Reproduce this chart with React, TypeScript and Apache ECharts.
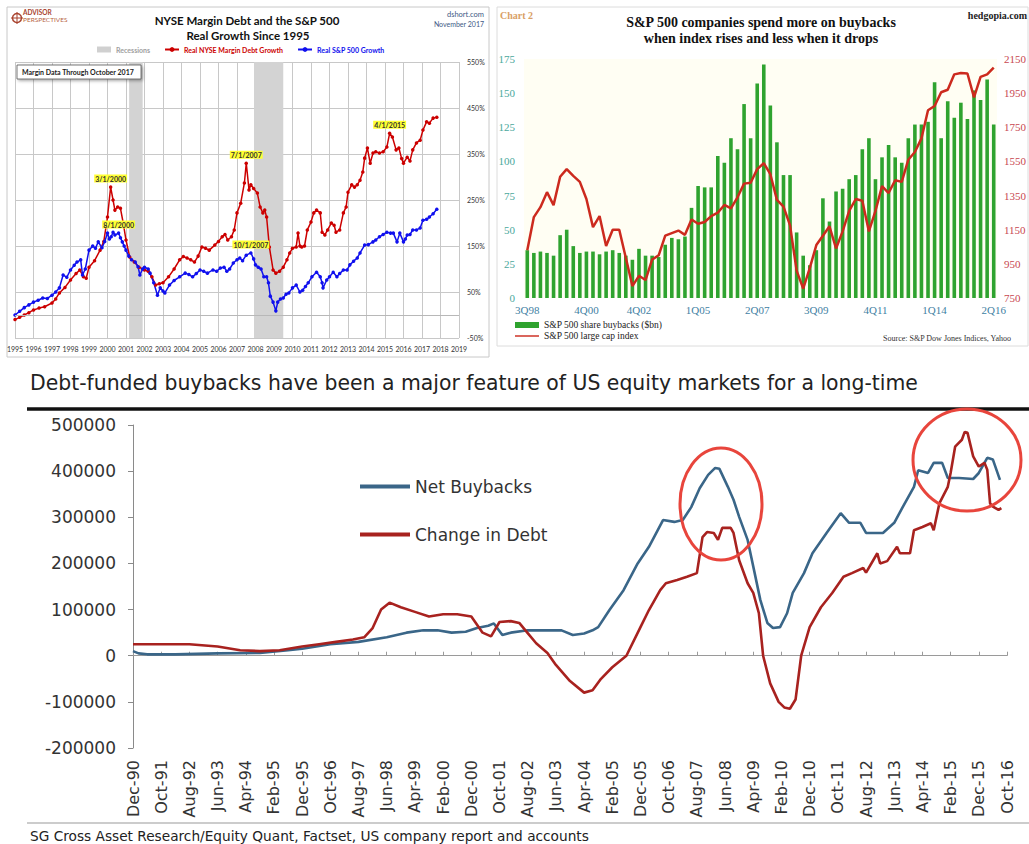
import React, { useEffect, useRef } from "react";
import * as echarts from "echarts";

// ---------- Chart 1: NYSE margin debt vs S&P 500 (real growth since 1995, %) ----------
const marginYears = [1995.0,1995.25,1995.5,1995.75,1996.0,1996.3,1996.6,1997.0,1997.2,1997.4,1997.7,1998.0,1998.3,1998.5,1998.7,1998.85,1999.0,1999.3,1999.6,1999.8,2000.0,2000.17,2000.3,2000.4,2000.55,2000.7,2000.85,2001.0,2001.2,2001.45,2001.7,2002.0,2002.2,2002.4,2002.6,2002.8,2003.0,2003.3,2003.6,2003.9,2004.1,2004.3,2004.5,2004.7,2004.9,2005.1,2005.3,2005.5,2005.8,2006.0,2006.2,2006.35,2006.5,2006.7,2006.85,2007.0,2007.2,2007.4,2007.5,2007.65,2007.75,2007.9,2008.1,2008.25,2008.4,2008.5,2008.6,2008.75,2008.95,2009.1,2009.3,2009.5,2009.7,2009.85,2010.0,2010.2,2010.3,2010.4,2010.5,2010.65,2010.8,2011.0,2011.15,2011.3,2011.5,2011.6,2011.75,2011.9,2012.1,2012.25,2012.35,2012.55,2012.75,2012.9,2013.0,2013.2,2013.35,2013.5,2013.65,2013.8,2013.9,2014.05,2014.2,2014.35,2014.5,2014.7,2014.9,2015.1,2015.25,2015.4,2015.6,2015.75,2015.9,2016.0,2016.2,2016.35,2016.5,2016.7,2016.9,2017.05,2017.25,2017.4,2017.6,2017.8];
const marginValues = [-10,-5,0,5,11,15,18,26,35,48,60,76,90,98,83,80,104,118,141,160,213,278,250,228,235,232,200,163,126,115,104,98,95,83,65,68,70,83,100,120,127,124,120,115,128,148,145,141,152,160,170,175,163,170,185,222,243,287,330,272,283,275,265,235,222,228,213,148,98,91,95,104,120,135,145,148,178,150,148,150,185,202,222,228,222,180,174,185,200,195,180,185,222,235,267,283,278,283,293,311,341,363,330,352,355,352,355,365,395,387,359,363,340,330,343,335,359,374,380,402,420,417,428,430];
const spxYears = [1995.0,1995.25,1995.5,1995.75,1996.0,1996.25,1996.5,1996.75,1997.0,1997.2,1997.4,1997.6,1997.8,1998.0,1998.2,1998.35,1998.55,1998.65,1998.8,1999.0,1999.2,1999.35,1999.5,1999.7,1999.85,2000.0,2000.1,2000.2,2000.3,2000.4,2000.6,2000.7,2000.8,2000.9,2001.0,2001.15,2001.3,2001.5,2001.65,2001.75,2001.9,2002.0,2002.2,2002.3,2002.5,2002.7,2002.85,2003.0,2003.1,2003.35,2003.6,2003.9,2004.2,2004.4,2004.6,2004.8,2005.0,2005.2,2005.4,2005.7,2005.9,2006.1,2006.3,2006.45,2006.6,2006.8,2007.0,2007.15,2007.3,2007.5,2007.75,2007.9,2008.0,2008.15,2008.3,2008.45,2008.6,2008.7,2008.8,2008.95,2009.1,2009.2,2009.35,2009.5,2009.65,2009.8,2010.0,2010.2,2010.4,2010.55,2010.7,2010.85,2011.05,2011.3,2011.5,2011.6,2011.65,2011.85,2012.0,2012.2,2012.4,2012.55,2012.75,2012.95,2013.1,2013.3,2013.5,2013.65,2013.9,2014.1,2014.35,2014.5,2014.7,2014.9,2015.1,2015.3,2015.45,2015.65,2015.8,2016.0,2016.1,2016.2,2016.35,2016.5,2016.7,2016.9,2017.05,2017.25,2017.4,2017.6,2017.8];
const spxValues = [0,8,16,22,28,32,37,36,43,50,59,87,82,98,108,115,120,87,100,141,150,145,159,146,160,178,165,170,180,174,178,168,159,150,141,128,120,115,105,87,100,104,100,91,70,43,59,52,48,65,75,83,91,88,83,90,98,95,91,98,95,102,104,95,100,113,120,124,118,130,135,122,109,104,100,83,83,70,41,28,9,28,35,37,45,48,59,65,50,54,62,70,83,93,83,70,59,76,83,93,83,90,98,98,109,117,124,135,152,153,159,163,170,175,180,178,178,159,178,159,165,174,175,185,185,189,206,208,213,220,230];
const recessionSpans = [[2001.17, 2001.9], [2007.92, 2009.5]];
const marginNotes = [
  { name: "3/1/2000", at: [2000.17, 278] },
  { name: "7/1/2007", at: [2007.5, 330] },
  { name: "4/1/2015", at: [2015.25, 395] },
];
const spxNotes = [
  { name: "8/1/2000", at: [2000.6, 178] },
  { name: "10/1/2007", at: [2007.75, 135] },
];

// ---------- Chart 2: S&P 500 buybacks ($bn) vs index ----------
const quarters = ["3Q98","4Q98","1Q99","2Q99","3Q99","4Q99","1Q00","2Q00","3Q00","4Q00","1Q01","2Q01","3Q01","4Q01","1Q02","2Q02","3Q02","4Q02","1Q03","2Q03","3Q03","4Q03","1Q04","2Q04","3Q04","4Q04","1Q05","2Q05","3Q05","4Q05","1Q06","2Q06","3Q06","4Q06","1Q07","2Q07","3Q07","4Q07","1Q08","2Q08","3Q08","4Q08","1Q09","2Q09","3Q09","4Q09","1Q10","2Q10","3Q10","4Q10","1Q11","2Q11","3Q11","4Q11","1Q12","2Q12","3Q12","4Q12","1Q13","2Q13","3Q13","4Q13","1Q14","2Q14","3Q14","4Q14","1Q15","2Q15","3Q15","4Q15","1Q16","2Q16"];
const quarterTicks = ["3Q98","4Q00","4Q02","1Q05","2Q07","3Q09","4Q11","1Q14","2Q16"];
const buybacks = [35,33,34,33,31,46,50,38,33,34,34,32,34,35,33,31,28,36,31,31,30,39,44,43,45,66,82,81,81,104,99,117,109,142,117,157,171,141,114,90,90,48,31,24,35,73,56,78,80,87,90,109,117,87,103,112,103,99,117,127,127,129,158,117,144,132,143,131,152,145,160,127];
const spIndex = [1030,1224,1282,1370,1294,1460,1505,1465,1430,1330,1165,1230,1055,1150,1150,985,820,880,855,975,1000,1115,1130,1145,1120,1210,1185,1195,1230,1250,1295,1275,1340,1420,1425,1505,1540,1475,1325,1285,1175,910,805,925,1060,1115,1170,1040,1140,1260,1330,1320,1140,1260,1405,1365,1440,1430,1560,1605,1685,1850,1875,1955,1970,2060,2068,2065,1925,2045,2060,2100];

// ---------- Chart 3: debt-funded buybacks (months counted from Dec-90) ----------
const monthTicks = ["Dec-90","Oct-91","Aug-92","Jun-93","Apr-94","Feb-95","Dec-95","Oct-96","Aug-97","Jun-98","Apr-99","Feb-00","Dec-00","Oct-01","Aug-02","Jun-03","Apr-04","Feb-05","Dec-05","Oct-06","Aug-07","Jun-08","Apr-09","Feb-10","Dec-10","Oct-11","Aug-12","Jun-13","Apr-14","Feb-15","Dec-15","Oct-16"];
const netBuybackMonths = [0,2,5,15,30,45,55,60,70,80,90,97,103,108,113,118,122,126,128,131,134,140,146,152,156,160,163,165,169,174,179,183,188,192,195,198,201,204,206.5,208,211,213,215,218,220.5,222.5,225,227,229.5,232,234,238,241,246,251,254,258,260,266,270,273,277,278.5,282,284,287,289,293,298,300,303,305,307.5];
const netBuybackValues = [10000,5000,3000,3000,5000,6000,12000,15000,25000,30000,40000,50000,55000,55000,50000,52000,60000,65000,70000,45000,50000,55000,55000,55000,45000,48000,55000,62000,99000,142000,200000,236000,294000,290000,294000,322000,363000,392000,407000,405000,366000,338000,301000,251000,179000,121000,71000,60000,62000,92000,136000,179000,222000,266000,309000,288000,288000,266000,266000,288000,322000,366000,402000,396000,418000,418000,385000,385000,383000,396000,429000,425000,381000];
const debtMonths = [0,10,20,30,38,45,52,60,66,72,78,82,85,88,91,95,100,105,110,115,120,124,127,130,134,137,140,143,147,150,155,160,163,166,170,175,180,183,187,189,193,196.5,200,202,203.6,206,207.5,209,212,213,215,218,220,222,223.5,226,229,231,233,235,237,240,244,248,252,255,259,260,264,265,267.5,271,272,275.6,277,280,283,284,286,289,290,291.6,294,295,296,298,300,302,303,304,305,307,308];
const debtValues = [25000,25000,25000,20000,12000,10000,12000,20000,25000,30000,35000,40000,60000,100000,115000,105000,95000,85000,90000,90000,85000,50000,42000,73000,75000,71000,49000,27000,6000,-20000,-55000,-80000,-75000,-50000,-25000,0,62000,99000,142000,157000,164000,171000,179000,257000,268000,266000,251000,277000,277000,266000,207000,157000,136000,92000,0,-60000,-100000,-112000,-115000,-95000,0,62000,105000,136000,171000,179000,190000,180000,222000,200000,205000,236000,222000,222000,272000,279000,287000,272000,330000,366000,396000,453000,468000,485000,483000,432000,410000,418000,403000,330000,323000,316000,320000];

const pairs = (xs: number[], ys: number[]) => xs.map((x, i) => [x, ys[i]]);

const F1 = "Lato";
const F2 = "Liberation Serif";
const F3 = "DejaVu Sans";
// thin horizontal bar icon (outer points keep the icon box full height)
const LINE_ICON = "path://M0,0L0,0M0,1.8L40,1.8L40,4.2L0,4.2ZM0,6L0,6";

const option: any = {
  animation: false,
  backgroundColor: "#ffffff",
  grid: [
    { left: 15, top: 62, width: 444, height: 276 },
    { left: 524, top: 59, width: 476, height: 239, show: true, backgroundColor: "#fffef3", borderWidth: 0 },
    { left: 133, top: 425, width: 874, height: 323 },
  ],
  xAxis: [
    {
      type: "value", gridIndex: 0, min: 1995, max: 2019, interval: 1,
      axisLine: { show: false }, axisTick: { show: false },
      splitLine: { show: true, lineStyle: { color: "#c8c8c8", width: 1 } },
      axisLabel: { fontSize: 7, color: "#333", fontFamily: F1, margin: 7, formatter: (v: number) => String(v) },
    },
    {
      type: "category", gridIndex: 1, data: quarters, boundaryGap: true,
      axisLine: { show: false }, axisTick: { show: false },
      axisLabel: {
        interval: (_i: number, v: string) => quarterTicks.includes(v),
        fontSize: 11, color: "#3f7fa3", fontFamily: F2, margin: 6,
      },
    },
    {
      type: "value", gridIndex: 2, min: 0, max: 310, interval: 10, position: "bottom",
      axisLine: { show: false, onZero: false }, axisTick: { show: false }, splitLine: { show: false },
      axisLabel: {
        rotate: 90, fontSize: 16, color: "#333", fontFamily: F3, margin: 12,
        formatter: (v: number) => (v % 10 === 0 ? monthTicks[v / 10] || "" : ""),
      },
    },
    {
      type: "value", gridIndex: 2, min: 0, max: 310, interval: 10, position: "top",
      axisLine: { show: true, onZero: true, lineStyle: { color: "#9a9a9a", width: 1 } },
      axisTick: { show: true, inside: false, length: 4, lineStyle: { color: "#9a9a9a" } },
      axisLabel: { show: false }, splitLine: { show: false },
    },
  ],
  yAxis: [
    {
      type: "value", gridIndex: 0, position: "right", min: -50, max: 550, interval: 100,
      axisLine: { show: false }, axisTick: { show: false },
      splitLine: { show: true, lineStyle: { color: "#c8c8c8", width: 1 } },
      axisLabel: { fontSize: 7, color: "#333", fontFamily: F1, margin: 8, formatter: (v: number) => v + "%" },
    },
    {
      type: "value", gridIndex: 1, position: "left", min: 0, max: 175, interval: 25,
      axisLine: { show: false }, axisTick: { show: false }, splitLine: { show: false },
      axisLabel: { fontSize: 11, color: "#4aa89c", fontFamily: F2, margin: 9, formatter: (v: number) => String(v) },
    },
    {
      type: "value", gridIndex: 1, position: "right", min: 750, max: 2150, interval: 200,
      axisLine: { show: false }, axisTick: { show: false }, splitLine: { show: false },
      axisLabel: { fontSize: 11, color: "#c8474f", fontFamily: F2, margin: 7, formatter: (v: number) => String(v) },
    },
    {
      type: "value", gridIndex: 2, min: -200000, max: 500000, interval: 100000, offset: 7,
      axisLine: { show: true, lineStyle: { color: "#8a8a8a", width: 1 } },
      axisTick: { show: true, length: 5, lineStyle: { color: "#8a8a8a" } },
      splitLine: { show: false },
      axisLabel: { fontSize: 17, color: "#333", fontFamily: F3, margin: 10, formatter: (v: number) => String(v) },
    },
  ],
  legend: [
    {
      left: 97, top: 46, padding: 0, itemWidth: 14, itemHeight: 6, itemGap: 14,
      textStyle: { fontSize: 7, fontWeight: "bold", fontFamily: F1 },
      data: [
        { name: "Recessions", icon: "rect", textStyle: { color: "#a0a0a0" } },
        { name: "Real NYSE Margin Debt Growth", textStyle: { color: "#cc0000" } },
        { name: "Real S&P 500 Growth", textStyle: { color: "#1010ee" } },
      ],
    },
    {
      left: 515, top: 320, padding: 0, orient: "vertical", itemWidth: 24, itemHeight: 6, itemGap: 1,
      textStyle: { fontSize: 9.5, color: "#222", fontFamily: F2 },
      data: [
        { name: "S&P 500 share buybacks ($bn)", icon: "rect" },
        { name: "S&P 500 large cap index", icon: LINE_ICON },
      ],
    },
    {
      left: 360, top: 478, padding: 0, orient: "vertical", itemWidth: 50, itemHeight: 4, itemGap: 31,
      textStyle: { fontSize: 17, color: "#333", fontFamily: F3 },
      data: [
        { name: "Net Buybacks", icon: "rect" },
        { name: "Change in Debt", icon: "rect" },
      ],
    },
  ],
  series: [
    {
      type: "line", name: "Recessions", xAxisIndex: 0, yAxisIndex: 0, data: [], color: "#d0d0d0",
      markArea: {
        silent: true, itemStyle: { color: "#d3d3d3" },
        data: recessionSpans.map(([a, b]) => [{ xAxis: a }, { xAxis: b }]),
      },
    },
    {
      type: "line", name: "Real NYSE Margin Debt Growth", xAxisIndex: 0, yAxisIndex: 0,
      data: pairs(marginYears, marginValues), color: "#cc0000",
      symbol: "circle", symbolSize: 3.5, lineStyle: { width: 1.5, color: "#cc0000" },
      markLine: {
        silent: true, symbol: "none", label: { show: false },
        lineStyle: { color: "#b8b8b8", type: "solid", width: 1 }, data: [{ yAxis: 0 }],
      },
      markPoint: {
        symbol: "circle", symbolSize: 1, itemStyle: { color: "rgba(0,0,0,0)" },
        label: {
          show: true, position: "top", distance: 4, formatter: "{b}", backgroundColor: "#ffff33",
          padding: [1, 1, 0, 1], fontSize: 7, fontWeight: "bold", color: "#333", fontFamily: F1,
        },
        data: marginNotes.map((n) => ({ name: n.name, coord: n.at })),
      },
    },
    {
      type: "line", name: "Real S&P 500 Growth", xAxisIndex: 0, yAxisIndex: 0,
      data: pairs(spxYears, spxValues), color: "#1010ee",
      symbol: "circle", symbolSize: 3.5, lineStyle: { width: 1.5, color: "#1010ee" },
      markPoint: {
        symbol: "circle", symbolSize: 1, itemStyle: { color: "rgba(0,0,0,0)" },
        label: {
          show: true, position: "top", distance: 4, formatter: "{b}", backgroundColor: "#ffff33",
          padding: [1, 1, 0, 1], fontSize: 7, fontWeight: "bold", color: "#333", fontFamily: F1,
        },
        data: spxNotes.map((n) => ({ name: n.name, coord: n.at })),
      },
    },
    {
      type: "bar", name: "S&P 500 share buybacks ($bn)", xAxisIndex: 1, yAxisIndex: 1,
      data: buybacks, barWidth: 3.6, color: "#2fa32f", itemStyle: { color: "#2fa32f" },
    },
    {
      type: "line", name: "S&P 500 large cap index", xAxisIndex: 1, yAxisIndex: 2,
      data: spIndex, symbol: "none", color: "#cc2a1e", lineStyle: { width: 2.5, color: "#cc2a1e" },
    },
    {
      type: "line", name: "Net Buybacks", xAxisIndex: 2, yAxisIndex: 3,
      data: pairs(netBuybackMonths, netBuybackValues), symbol: "none", color: "#3a6688",
      lineStyle: { width: 2.6, color: "#3a6688" },
    },
    {
      type: "line", name: "Change in Debt", xAxisIndex: 2, yAxisIndex: 3,
      data: pairs(debtMonths, debtValues), symbol: "none", color: "#a8221f",
      lineStyle: { width: 2.6, color: "#a8221f" },
    },
  ],
  graphic: [
    // chart 1 frame & header
    { type: "rect", shape: { x: 7, y: 7, width: 482, height: 350 }, style: { fill: "none", stroke: "#c8c8c8", lineWidth: 1 }, z: -1 },
    { type: "circle", shape: { cx: 17, cy: 18, r: 4.5 }, style: { fill: "none", stroke: "#a8432f", lineWidth: 1.5 } },
    { type: "line", shape: { x1: 11, y1: 18, x2: 23, y2: 18 }, style: { stroke: "#a8432f", lineWidth: 1 } },
    { type: "line", shape: { x1: 17, y1: 12, x2: 17, y2: 24 }, style: { stroke: "#a8432f", lineWidth: 1 } },
    { type: "text", x: 23, y: 15.5, style: { text: "ADVISOR", fontSize: 6.5, fontWeight: "bold", fill: "#a8432f", fontFamily: F1, verticalAlign: "bottom" } },
    { type: "text", x: 23, y: 16, style: { text: "PERSPECTIVES", fontSize: 6.5, fill: "#b8653f", fontFamily: F1, verticalAlign: "top" } },
    { type: "text", x: 247, y: 20, style: { text: "NYSE Margin Debt and the S&P 500", fontSize: 11.5, fontWeight: "bold", fill: "#111", fontFamily: F1, align: "center", verticalAlign: "middle" } },
    { type: "text", x: 248, y: 35, style: { text: "Real Growth Since 1995", fontSize: 11.5, fontWeight: "bold", fill: "#111", fontFamily: F1, align: "center", verticalAlign: "middle" } },
    { type: "text", x: 484, y: 14, style: { text: "dshort.com", fontSize: 7.5, fill: "#3e5a85", fontFamily: F1, align: "right", verticalAlign: "middle" } },
    { type: "text", x: 484, y: 24, style: { text: "November 2017", fontSize: 7, fill: "#3e5a85", fontFamily: F1, align: "right", verticalAlign: "middle" } },
    { type: "rect", shape: { x: 17, y: 65, width: 124, height: 14 }, style: { fill: "#ffffff", stroke: "#555", lineWidth: 0.8, shadowBlur: 3, shadowOffsetX: 1.5, shadowOffsetY: 1.5, shadowColor: "rgba(0,0,0,0.35)" }, z: 10 },
    { type: "text", x: 22, y: 72, style: { text: "Margin Data Through October 2017", fontSize: 7, fontWeight: "bold", fill: "#222", fontFamily: F1, verticalAlign: "middle" }, z: 11 },

    // chart 2 frame & header
    { type: "rect", shape: { x: 497, y: 7, width: 531, height: 339 }, style: { fill: "none", stroke: "#dcdcdc", lineWidth: 1 }, z: -1 },
    { type: "text", x: 500, y: 15, style: { text: "Chart 2", fontSize: 10, fontWeight: "bold", fill: "#d9a066", fontFamily: F2, verticalAlign: "middle" } },
    { type: "text", x: 761, y: 22, style: { text: "S&P 500 companies spend more on buybacks", fontSize: 14, fontWeight: "bold", fill: "#111", fontFamily: F2, align: "center", verticalAlign: "middle" } },
    { type: "text", x: 761, y: 38, style: { text: "when index rises and less when it drops", fontSize: 14, fontWeight: "bold", fill: "#111", fontFamily: F2, align: "center", verticalAlign: "middle" } },
    { type: "text", x: 1027, y: 15, style: { text: "hedgopia.com", fontSize: 10, fontWeight: "bold", fill: "#222", fontFamily: F2, align: "right", verticalAlign: "middle" } },
    { type: "text", x: 1011, y: 338, style: { text: "Source: S&P Dow Jones Indices, Yahoo", fontSize: 8, fill: "#333", fontFamily: F2, align: "right", verticalAlign: "middle" } },

    // chart 3 header, rules, highlight circles, source
    { type: "text", x: 30, y: 383, style: { text: "Debt-funded buybacks have been a major feature of US equity markets for a long-time", fontSize: 20.4, fill: "#222", fontFamily: F3, verticalAlign: "middle" } },
    { type: "line", shape: { x1: 27, y1: 409, x2: 1029, y2: 409 }, style: { stroke: "#111", lineWidth: 3.5 } },
    { type: "ellipse", shape: { cx: 721, cy: 504, rx: 41, ry: 56 }, style: { fill: "none", stroke: "#e8453c", lineWidth: 3 }, z: 20 },
    { type: "ellipse", shape: { cx: 967, cy: 460, rx: 54, ry: 51 }, style: { fill: "none", stroke: "#e8453c", lineWidth: 3 }, z: 20 },
    { type: "line", shape: { x1: 27, y1: 823, x2: 1029, y2: 823 }, style: { stroke: "#999", lineWidth: 1 } },
    { type: "text", x: 30, y: 836, style: { text: "SG Cross Asset Research/Equity Quant, Factset, US company report and accounts", fontSize: 13.7, fill: "#222", fontFamily: F3, verticalAlign: "middle" } },
  ],
};

export default function App() {
  const ref = useRef<HTMLDivElement>(null);
  useEffect(() => {
    if (!ref.current) return;
    const chart = echarts.init(ref.current, null, { renderer: "svg" });
    chart.setOption(option);
    return () => chart.dispose();
  }, []);
  return (
    <div
      ref={ref}
      style={{ position: "absolute", left: 0, top: 0, width: 1029, height: 844, background: "#ffffff" }}
    />
  );
}
